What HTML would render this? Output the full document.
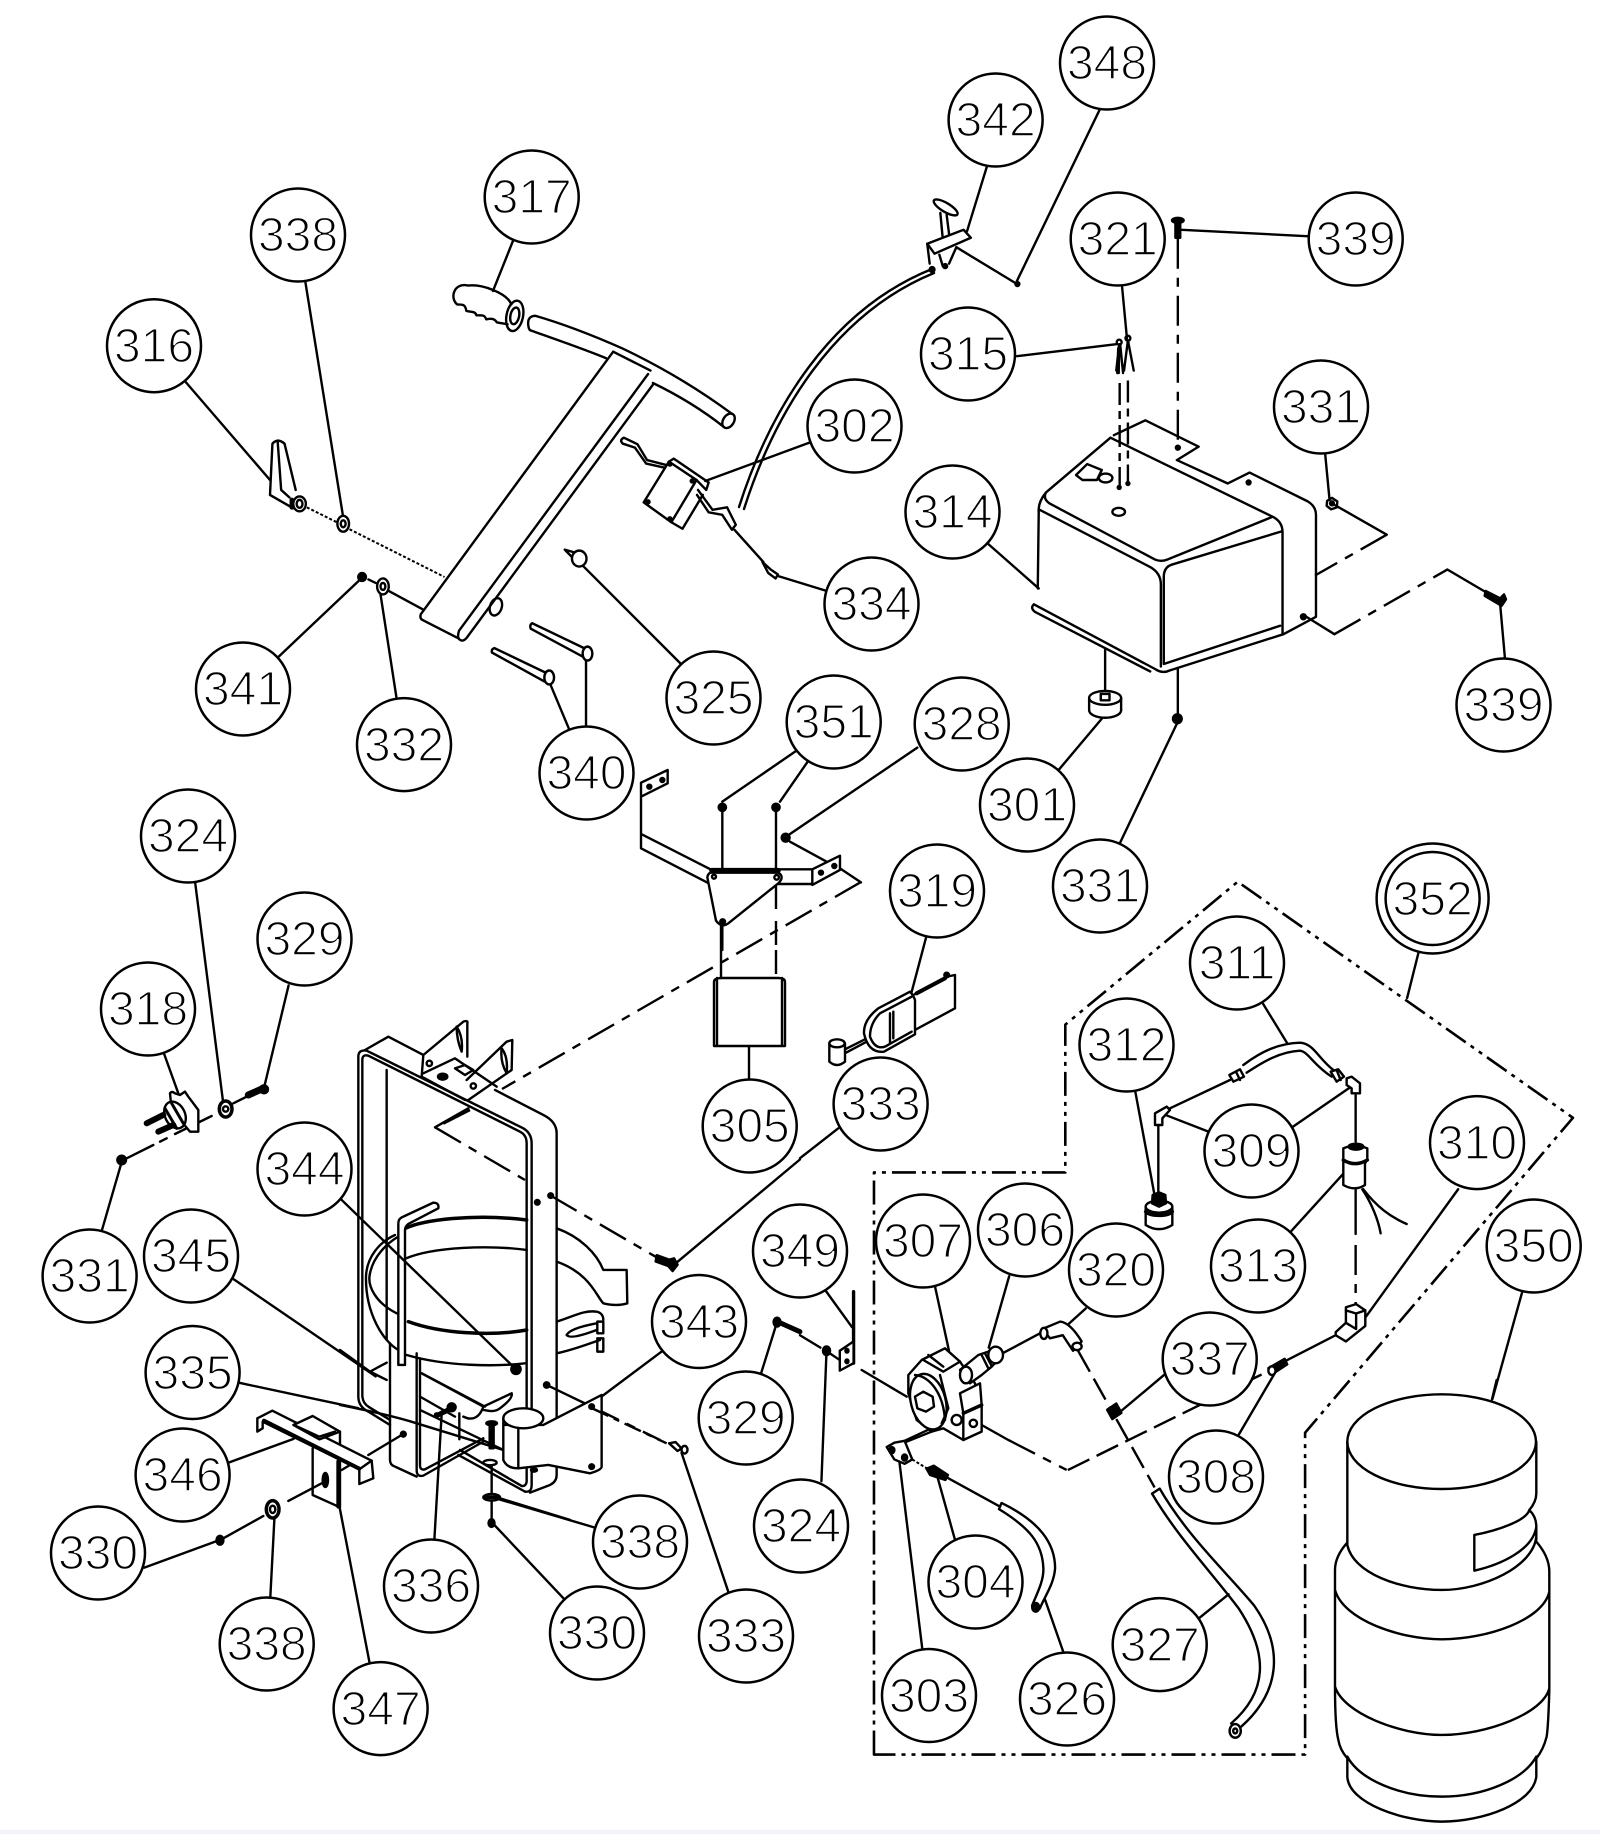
<!DOCTYPE html>
<html><head><meta charset="utf-8"><style>
html,body{margin:0;padding:0;background:#fff}
svg{display:block}
svg *{vector-effect:non-scaling-stroke}
.p{fill:none;stroke:#000;stroke-width:2.4;stroke-linejoin:round;stroke-linecap:round}
.w{fill:#fff}
.k{fill:#000;stroke:#000}
.d{stroke-dasharray:30 9 9 9;stroke-linecap:butt}
.f{stroke-dasharray:3 2;stroke-linecap:butt;stroke-width:2}
.b{stroke-dasharray:24 6 4 6 4 6;stroke-linecap:butt;stroke-width:2.6}
.balloon ellipse{fill:#fff;stroke:#000;stroke-width:2.5}
.balloon text{font-family:"Liberation Sans",sans-serif;font-size:48px;text-anchor:middle;fill:#000;stroke:#fff;stroke-width:1.5}
</style></head><body>
<svg width="1600" height="1834" viewBox="0 0 1600 1834" xmlns="http://www.w3.org/2000/svg">
<rect width="1600" height="1834" fill="#fff"/>
<rect y="1830" width="1600" height="4" fill="#f4f3f8"/>

<!-- upper left -->
<g class="p" transform="translate(80,0) scale(.4847,.4974)">
<path d="M893,485L852,585M465,567L543,1040M218,768L392,965M410,1320L578,1165M653,1403L620,1195M1240,1335L1035,1135M1010,1468L970,1375M1044,1462V1325M1505,890L1290,967M1540,1188L1440,1158M595,1165L610,1172M635,1187L707,1225M1350,1065L1410,1130"/>
<path class="f" d="M468,1020L530,1050M556,1064L752,1160"/>
<path d="M852,583C870,590 885,600 890,612M778,612C762,598 772,568 800,574C820,572 840,578 852,583M778,612C790,612 795,612 797,625C808,628 815,625 818,634C828,634 835,632 838,642C848,640 855,640 860,648C868,650 875,650 882,652"/>
<ellipse cx="897" cy="635" rx="17" ry="31" transform="rotate(12 897 635)"/>
<ellipse cx="897" cy="635" rx="9" ry="17" transform="rotate(12 897 635)"/>
<path d="M940,635C1000,652 1060,675 1118,700C1200,738 1280,785 1345,832M932,665C980,682 1035,700 1085,720M1182,770C1235,795 1285,825 1328,858M940,635Q922,635 925,655Q926,665 932,665"/>
<ellipse cx="1338" cy="846" rx="11" ry="16" transform="rotate(35 1338 846)"/>
<path d="M1100,707L1177,745M1100,707L703,1235Q700,1245 710,1248L780,1283M1172,752L782,1268Q778,1280 782,1285Q790,1292 798,1282L1183,772"/>
<ellipse cx="858" cy="1220" rx="12" ry="18" transform="rotate(20 858 1220)"/>
<path d="M392,995L397,892Q408,880 422,892L445,985M392,995L440,1022M408,890L415,985L432,1000"/>
<ellipse class="w" cx="453" cy="1013" rx="13" ry="15"/><ellipse cx="453" cy="1013" rx="6" ry="8"/>
<path style="stroke-width:4.5" d="M437,1005V1020"/>
<ellipse class="w" cx="543" cy="1053" rx="12" ry="16"/><ellipse cx="543" cy="1053" rx="5" ry="7"/>
<circle class="k" cx="582" cy="1160" r="8"/>
<ellipse class="w" cx="625" cy="1179" rx="12" ry="16"/><ellipse cx="625" cy="1179" rx="5" ry="7"/>
<path d="M855,1303L960,1352M850,1312L958,1370M855,1303Q848,1305 850,1312"/><ellipse class="w" cx="968" cy="1362" rx="10" ry="14"/>
<path d="M933,1253L1040,1303M930,1264L1037,1320M933,1253Q927,1256 930,1264"/><ellipse class="w" cx="1047" cy="1314" rx="10" ry="14"/>
<path d="M1000,1105L1020,1125L1018,1110Z"/><ellipse class="w" cx="1030" cy="1123" rx="15" ry="16"/>
<path class="w" d="M1215,928L1272,965L1220,1050L1163,1010Z"/>
<path d="M1215,928L1225,922L1297,970L1292,985M1220,1050L1243,1063L1285,995M1272,965L1292,985"/>
<path d="M1210,935L1170,925L1150,893L1122,880Q1112,885 1120,892L1145,900L1168,932L1205,940M1275,985L1305,1025L1335,1020L1353,1055L1345,1065L1325,1035L1297,1030L1273,995"/>
<path d="M1408,1130L1425,1145L1440,1155L1435,1163L1420,1152Z"/>
<circle class="k" cx="1217" cy="933" r="3"/><circle class="k" cx="1263" cy="967" r="3"/><circle class="k" cx="1172" cy="1009" r="3"/><circle class="k" cx="1217" cy="1043" r="3"/>
</g>

<!-- cable -->
<g class="p"><path d="M739,507C770,410 830,310 932,269M744,509C775,412 834,314 934,273"/></g>

<!-- upper right -->
<g class="p" transform="translate(840,0) scale(.4847,.4974)">
<path d="M303,335L262,465M535,222L365,565M240,497L360,568M582,577L592,680M365,716L570,692M968,475L705,462M1001,913L1010,1005M305,1093L410,1183M1372,1325L1362,1215M445,1555L540,1445M547,1305V1395M575,1700L695,1455M697,1345V1435"/>
<circle class="k" cx="366" cy="571" r="4"/>
<ellipse class="w" cx="218" cy="417" rx="28" ry="9" transform="rotate(30 218 417)"/>
<path d="M207,428L212,480M220,432L225,470"/>
<path class="w" d="M180,490L255,462L270,478L195,510Z"/>
<path d="M180,490L185,530M205,512L212,535M240,497L225,530"/>
<circle class="k" cx="190" cy="542" r="5"/><circle class="k" cx="217" cy="535" r="4"/>
<ellipse class="k" cx="697" cy="443" rx="12" ry="5"/><path class="k" d="M692,447H702V478H692Z"/>
<path class="d" d="M697,480V900"/><circle class="k" cx="697" cy="900" r="4"/>
<circle cx="576" cy="688" r="5"/><circle cx="594" cy="680" r="5"/>
<path d="M576,692L570,745M576,692L575,750M578,692L584,750M594,684L586,745M594,684L606,745M574,700L572,750"/>
<path class="d" style="stroke-dasharray:22 6 8 6" d="M577,770V980M594,765V972"/>
<circle class="k" cx="576" cy="980" r="3"/><circle class="k" cx="594" cy="972" r="3"/>
<path d="M558,880L425,990Q418,1002 432,1012L650,1125Q662,1130 675,1125L890,1040M558,880L895,1040Q913,1050 913,1070V1275M565,875L630,845L740,898L695,925L800,972L845,950L965,1008Q982,1018 982,1035V1240L915,1275M425,990Q408,1010 410,1030L408,1183M412,1025L640,1140Q662,1152 662,1175V1340M912,1068L685,1135Q668,1140 668,1160V1335L908,1258M400,1215L650,1345Q665,1355 680,1348L915,1275M400,1215Q392,1222 402,1230L640,1350"/>
<path d="M487,955L510,933L540,945L530,965L500,965Z"/>
<ellipse cx="548" cy="961" rx="14" ry="9"/><ellipse cx="575" cy="1029" rx="13" ry="8"/>
<circle class="k" cx="843" cy="970" r="4"/><circle class="k" cx="956" cy="1240" r="5"/>
<path class="d" d="M1128,1075L980,1157"/><path d="M1022,1016L1128,1075"/>
<path d="M1005,1007L1015,1001L1026,1008L1025,1020L1013,1024L1004,1017Z"/><circle class="k" cx="1015" cy="1012" r="4"/>
<path class="d" d="M1020,1275L1253,1145"/><path d="M962,1240L1020,1275M1253,1145L1335,1192"/>
<path class="k" d="M1332,1188L1362,1203L1370,1195L1374,1205L1365,1218L1358,1214L1330,1198Z"/>
<ellipse class="w" cx="547" cy="1428" rx="33" ry="15"/>
<path class="w" d="M514,1403V1428H580V1403Z" style="stroke:none"/>
<path d="M514,1403V1428M580,1403V1428"/>
<ellipse class="w" cx="547" cy="1403" rx="33" ry="14"/>
<path d="M538,1395H556V1408H538Z"/>
<circle class="k" cx="696" cy="1445" r="9"/>
</g>

<!-- 351 bracket -->
<g class="p" transform="translate(630,760) scale(.3333)">
<path d="M277,125L498,-27M450,125L540,-5M480,222L862,-37M480,245L590,305"/>
<circle class="k" cx="277" cy="142" r="11"/><circle class="k" cx="438" cy="142" r="11"/>
<circle class="k" cx="467" cy="233" r="12"/>
<path d="M277,142V330M438,142V330M277,495V570"/>
<path class="d" d="M438,375V570" style="stroke-dasharray:24 12"/>
<path d="M33,68L113,30V70L33,110ZM33,110V265L240,372M33,222L245,330"/>
<circle class="k" cx="58" cy="80" r="6"/><circle class="k" cx="97" cy="60" r="6"/>
<path d="M445,328H547M445,372H547M547,328V375L630,330V287L547,328M630,325L693,367"/>
<circle class="k" cx="573" cy="338" r="6"/><circle class="k" cx="613" cy="318" r="6"/>
<path class="w" d="M232,352Q235,335 250,338H445Q465,350 445,370L295,490Q275,505 258,482Z"/>
<path d="M245,331H445" style="stroke-width:5"/>
<circle cx="252" cy="350" r="6"/><circle cx="440" cy="352" r="7"/><circle class="k" cx="278" cy="485" r="7"/>
</g>
<g class="p">
<path class="d" d="M861,882L502,1089M470,1110L435,1128"/>
<path d="M721,923V978"/>
<path class="d" style="stroke-dasharray:24 12" d="M776,950V975"/>
<path d="M714,982Q714,978 722,978H778Q785,978 785,982V1046H714ZM717,978V1046M782,978V1046"/>
<path d="M749,1047V1080"/>
</g>

<!-- frame -->
<g class="p" transform="translate(340,1020) scale(.3333)">
<path d="M75,90L145,50L250,105M465,210L610,285Q650,305 650,340V1365Q650,1385 630,1395L570,1418"/>
<path d="M140,150V960"/>
<path d="M150,970V1320Q150,1335 165,1340L230,1370"/>
<path d="M230,1000V1350Q230,1372 250,1367L430,1265M240,1015V1335Q240,1352 255,1348L430,1255"/>
<path d="M245,1060L435,1160M240,1130L345,1190M240,1170L490,1290M355,1305L555,1415M360,1290L545,1398"/>
<path d="M150,1215L85,1175Q55,1160 55,1130V110Q55,88 80,92L550,325Q575,340 575,370V1395Q575,1418 555,1415"/>
<path d="M150,1200L88,1162Q67,1150 67,1125V120Q67,102 85,107L540,335Q560,345 560,370V1385Q558,1400 545,1398"/>
<path d="M560,600C400,580 250,600 196,625" style="stroke-width:3.5"/>
<path d="M196,716C280,680 450,675 560,690"/>
<path d="M205,905C300,940 450,950 560,930" style="stroke-width:3.5"/>
<path d="M175,650C140,670 100,710 90,760C80,800 110,850 170,880"/>
<path d="M165,645C120,665 80,710 78,770C76,880 130,965 175,990M200,1005C320,1040 470,1040 555,1030"/>
<path d="M650,625C720,650 770,700 790,750L860,750L862,850Q830,860 790,850C770,830 750,760 650,725"/>
<path d="M650,905C700,890 730,870 770,875Q790,880 790,900M650,1000C700,990 750,970 780,960M680,945Q690,925 770,910M680,945Q690,960 770,930"/>
<path d="M772,905H790V940H772ZM772,955H790V995H772Z"/>
<path class="w" d="M175,1035V610Q175,595 190,590L280,548Q298,548 295,565L205,612Q195,620 195,630V1035Z"/>
<path d="M250,105L370,5Q385,0 382,10V110M250,105L245,170L375,240M380,180L500,65L517,60L515,150L385,240M250,160L345,115L470,200"/>
<path d="M350,20Q370,50 365,95Q350,60 350,20M485,85Q505,110 500,160Q480,125 485,85"/>
<circle cx="268" cy="130" r="8"/><circle cx="400" cy="198" r="8"/><ellipse class="k" cx="308" cy="170" rx="14" ry="9"/>
<path d="M345,145L375,135L400,150L375,165Z"/>
<circle class="k" cx="592" cy="547" r="7"/><circle class="k" cx="632" cy="527" r="7"/><circle class="k" cx="620" cy="1095" r="8"/><circle class="k" cx="190" cy="1243" r="7"/>
<path class="d" d="M285,322L555,480M632,527L955,715"/>
<path d="M285,322L385,265M620,1095L755,1160"/>
<path class="d" d="M755,1160L960,1260"/>
<path d="M0,535L525,1045"/><circle class="k" cx="528" cy="1048" r="14"/>
<path d="M0,990L90,1055L140,1080M90,1055L140,1028M0,1155Q150,1185 230,1210L490,1290"/>
<path d="M245,1060L430,1160C420,1190 400,1205 370,1190M430,1160L515,1120Q520,1135 480,1165C460,1180 440,1170 430,1170"/>
<path d="M358,1180V1258"/>
<circle class="k" cx="335" cy="1162" r="12"/><path class="k" d="M335,1165L290,1187" style="stroke-width:5"/>
<circle class="k" cx="290" cy="1185" r="5"/>
<path class="w" d="M490,1195V1320Q500,1345 535,1345L625,1335L750,1360Q785,1350 785,1340V1125L610,1215H490Z"/>
<ellipse class="w" cx="550" cy="1195" rx="60" ry="30"/>
<path d="M535,1225V1345"/>
<circle class="k" cx="755" cy="1160" r="7"/><circle class="k" cx="755" cy="1340" r="7"/>
<ellipse class="k" cx="582" cy="1350" rx="9" ry="5"/>
<ellipse class="k" cx="455" cy="1210" rx="16" ry="6"/><path class="k" d="M449,1215H461V1285H449Z"/>
<ellipse cx="450" cy="1328" rx="20" ry="8"/>
<path d="M455,1340V1425"/>
<ellipse class="w" cx="455" cy="1432" rx="25" ry="10"/><path d="M435,1432H475" style="stroke-width:4"/>
<path d="M480,1435L690,1500M455,1442V1500"/>
</g>

<!-- lower left leaders -->
<g class="p" transform="translate(20,780) scale(.4974,.6378)">
<path d="M352,160L408,503M540,322L492,478M290,430L320,495M165,705L204,600M430,783L715,935M440,945L680,985M420,1070L550,1033M250,1235L400,1192M503,1285L512,1150M703,1385L640,1130M1155,1172L960,1127M1095,1285L950,1165M1425,1275L1330,1055M1292,895L1172,965M1568,595L1315,760M848,990L833,1192M1490,930L1522,850"/>
<circle class="k" cx="402" cy="1192" r="7"/>
<circle class="k" cx="948" cy="1165" r="6"/>
<path class="d" style="stroke-dasharray:18 6 6 6" d="M1150,985L1300,1040"/>
<path d="M1305,1040L1322,1052L1330,1048L1318,1038Z"/><circle class="w" cx="1336" cy="1050" r="6"/>
<path class="k" d="M1280,745L1305,752L1315,750L1322,760L1312,770L1303,762L1278,755Z"/>
<circle class="k" cx="1522" cy="850" r="7"/>
<path d="M1525,850L1568,865" style="stroke-width:5"/>
</g>

<!-- 318 -->
<g class="p" transform="translate(100,1060) scale(.3333)">
<path d="M160,255L80,295M180,245L200,235M225,222L335,168M400,130L450,105"/>
<path class="w" d="M210,100Q215,92 225,100L240,105L255,95L265,110L295,150V215L270,215L215,150Z"/>
<ellipse class="w" cx="225" cy="165" rx="30" ry="42" transform="rotate(-25 225 165)"/>
<path d="M195,145L230,205M215,130L250,190" style="stroke-width:3"/>
<path d="M140,190L190,165M175,215L220,195" style="stroke-width:6"/>
<circle class="k" cx="65" cy="300" r="13"/>
<ellipse class="w" cx="377" cy="147" rx="19" ry="24" style="stroke-width:3.5"/><circle cx="377" cy="147" r="8"/>
<path d="M445,105L490,85" style="stroke-width:7"/><circle class="k" cx="492" cy="88" r="12"/>
</g>

<!-- 346 / 347 -->
<g class="p" transform="translate(240,1390) scale(.3333)">
<path d="M385,195L490,132M145,333L245,280M-50,445L70,378"/>
<circle class="k" cx="490" cy="132" r="7"/>
<path class="w" d="M300,125V215H218V175L300,125Z" style="stroke:none"/>
<path d="M218,175V315L300,352V215M300,125V210M305,240L330,225"/>
<path d="M295,215V350" style="stroke-width:4"/>
<ellipse class="k" cx="256" cy="270" rx="8" ry="21"/>
<path class="w" d="M52,125V85L97,62L395,212L400,265L358,282V238L68,95V115Z"/>
<path d="M72,92L358,236" style="stroke-width:4"/>
<path d="M358,238L395,212"/>
<path class="w" d="M160,105L218,78L300,125L238,148Z"/>
<path d="M168,108L238,140L285,125"/>
<ellipse class="w" cx="98" cy="358" rx="19" ry="26" style="stroke-width:3.5"/><ellipse cx="98" cy="358" rx="8" ry="11"/>
</g>

<!-- lower right -->
<g class="p" transform="translate(800,860) scale(.5102,.6212)">
<path class="b" d="M145,1440V503H520V265L858,35L1515,415L990,922V1440Z"/>
<path d="M1212,150L1190,222M247,125L218,215M75,432L0,480M908,232L955,295M657,372L695,540M800,437L715,410M965,430L1080,365M1290,530L1105,740M1415,697L1357,868M960,600L1065,505M265,688L292,790M410,670L370,785M560,722L525,748M715,828L625,890M860,925L935,820M304,1095L270,995M240,1272L195,970M517,1277L480,1190M780,1222L840,1182M50,693L102,752M42,1000L52,790M0,765L40,785M60,795L78,805"/>
<path class="d" style="stroke-dasharray:24 8" d="M525,982L925,820M545,790L610,885M620,900L695,1010"/>
<path d="M955,805L1050,765"/>
<path class="w" d="M1050,760L1070,745V720L1090,715L1108,725V750L1070,775L1050,765Z"/>
<path d="M1070,725L1090,730L1108,725M1090,730V755M1070,745L1090,755"/>
<path class="k" d="M918,818L950,803L955,812L925,828Z"/><circle class="w" cx="925" cy="822" r="7"/>
<path d="M395,795L475,760"/>
<path class="w" d="M475,755L510,743Q530,745 552,775L535,790L515,765L490,770Z"/><ellipse class="w" cx="478" cy="762" rx="7" ry="9"/><ellipse class="w" cx="543" cy="783" rx="9" ry="6"/>
<path class="k" d="M602,885L620,875L630,890L612,900Z"/>
<path d="M690,1020L705,1012C760,1090 840,1150 890,1200C950,1270 940,1340 865,1395M690,1020C740,1090 810,1150 860,1205C920,1280 915,1340 845,1390"/>
<circle class="w" cx="853" cy="1402" r="11"/><circle cx="853" cy="1402" r="4"/>
<path d="M390,1045L395,1035C470,1065 500,1100 500,1140C498,1165 480,1185 470,1205M390,1045C450,1075 475,1100 477,1140C478,1160 465,1180 455,1200"/>
<ellipse class="k" cx="462" cy="1203" rx="7" ry="7"/>
<path d="M290,995L390,1040"/>
<path class="k" d="M248,980L262,975L290,990L285,998L255,990Z"/>
<path class="f" d="M220,965L250,980"/>
<path d="M170,945L185,938L205,935L220,965L205,972L185,965Z"/><circle class="k" cx="180" cy="950" r="5"/><circle class="k" cx="205" cy="962" r="5"/>
<path d="M205,935L270,910"/>
<path d="M105,695V810" style="stroke-width:3.4"/>
<path class="w" d="M78,790L105,775V810L78,822Z"/><circle class="k" cx="92" cy="790" r="3"/><circle class="k" cx="92" cy="807" r="3"/>
<circle class="k" cx="52" cy="790" r="7"/>
</g>

<!-- 319 -->
<g class="p" transform="translate(810,940) scale(.3333)">
<path d="M310,165L410,110L435,105V205L315,270"/>
<path d="M320,160L405,115" style="stroke-width:4"/><circle class="k" cx="410" cy="105" r="7"/>
<path class="w" d="M300,155L205,205Q160,240 162,280Q175,340 222,335L315,283V180Q310,165 300,155Z"/>
<path d="M305,170L210,220Q180,250 180,290Q195,330 225,320L305,275M240,220V310M250,215V295"/>
<path d="M105,328L165,298M108,338L170,305"/>
<path class="w" d="M58,310V365Q80,385 105,365V310Z"/><ellipse class="w" cx="81" cy="310" rx="23" ry="12"/>
</g>

<!-- 309-313 -->
<g class="p" transform="translate(1130,1030) scale(.3333)">
<path d="M340,105C400,60 450,40 510,38C550,40 565,85 610,120M350,128C400,95 450,65 510,62C535,65 550,105 605,140"/>
<path d="M120,235L300,150M85,285V490M677,195V335M677,480V612"/>
<path class="d" d="M677,645V822"/>
<path class="w" d="M298,135L330,118L342,140L310,155Z"/><path d="M318,125L330,150"/>
<path class="w" d="M602,125L625,118L642,140L620,155Z"/><path d="M620,120L632,150"/>
<path class="w" d="M650,145L665,140L690,160V190H665V175L650,165Z"/>
<path class="w" d="M75,250L110,230L120,240L97,265V285H75Z"/>
<path class="w" d="M47,530V585Q87,610 127,585V530Z"/>
<ellipse class="w" cx="87" cy="530" rx="40" ry="18"/>
<path d="M47,545C60,560 115,560 127,545" style="stroke-width:3.5"/>
<path class="k" d="M68,495L87,487L106,495L108,520L87,530L66,520Z"/>
<path class="w" d="M640,355Q675,340 712,355V390L705,400V465Q675,485 640,465V395Z"/>
<ellipse class="k" cx="678" cy="350" rx="22" ry="9"/>
<path d="M640,390Q675,412 712,390" style="stroke-width:3.5"/>
<path d="M700,478C740,530 780,560 830,582M697,478C725,520 745,570 752,610"/>
</g>

<!-- pump -->
<g class="p" transform="translate(860,1280) scale(.3333)">
<path d="M5,270L140,350M365,435L445,480"/>
<path class="d" d="M445,480L620,570"/>
<path class="w" d="M145,285L185,240L255,205L300,245L345,310L360,375V455L310,480L250,445L215,455L170,420L145,340Z"/>
<ellipse class="w" cx="205" cy="365" rx="52" ry="85" transform="rotate(-15 205 365)"/>
<path d="M165,285C210,290 250,340 255,420M190,240L250,275L300,245M205,225L250,260M240,285L265,385L245,430"/>
<path class="w" d="M165,350L190,335L218,350L222,380L198,395L172,385Z"/>
<path class="w" d="M300,340L360,310L365,375L310,400Z"/>
<path class="w" d="M310,400L365,375V455L310,480Z"/><path d="M310,400L365,375" style="stroke-width:3.5"/>
<circle class="w" cx="340" cy="430" r="11"/><circle cx="290" cy="420" r="15"/>
<path class="w" d="M300,270L355,225L385,215L405,200L428,225L395,260L365,285L330,310Z"/>
<ellipse class="w" cx="407" cy="225" rx="22" ry="25"/>
<ellipse class="w" cx="318" cy="285" rx="18" ry="25"/>
<path d="M365,225L385,265M375,220L395,258"/>
<path d="M140,485L240,445"/>
</g>

<!-- tank -->
<g class="p" transform="translate(1320,1380) scale(.3333)">
<path d="M516,58L530,0"/>
<ellipse cx="365" cy="185" rx="283" ry="142"/>
<path d="M82,185V495M649,185V340Q649,365 628,390M82,495C100,580 240,630 365,630C490,630 640,560 649,470M628,390Q649,410 649,440V480M463,465C540,450 620,420 628,390M463,465V572M463,572C540,555 640,510 649,440M80,490Q45,530 45,570V920Q45,1040 55,1080Q60,1110 82,1135M649,485Q688,530 688,575V930Q685,1040 680,1070Q670,1110 649,1135M45,630C70,720 240,778 365,778C500,778 670,720 688,635M45,920C70,1000 240,1065 365,1065C500,1065 670,1000 688,925M82,1130C120,1200 240,1250 365,1250C490,1250 610,1200 649,1130M82,1130V1190C85,1270 250,1325 365,1325C490,1325 640,1270 649,1190V1130"/>
</g>

<!-- balloons -->
<g class="balloon">
<ellipse cx="531.7" cy="197" rx="47" ry="46.5"/><text x="531.7" y="213">317</text>
<ellipse cx="298" cy="235" rx="47" ry="46.5"/><text x="298" y="251">338</text>
<ellipse cx="154" cy="345.7" rx="47" ry="46.5"/><text x="154" y="362">316</text>
<ellipse cx="243" cy="689" rx="47" ry="46.5"/><text x="243" y="705">341</text>
<ellipse cx="404" cy="744.6" rx="47" ry="46.5"/><text x="404" y="761">332</text>
<ellipse cx="586.5" cy="773" rx="47" ry="46.5"/><text x="586.5" y="789">340</text>
<ellipse cx="713.5" cy="698" rx="47" ry="46.5"/><text x="713.5" y="714">325</text>
<ellipse cx="1107" cy="63" rx="47" ry="46.5"/><text x="1107" y="79">348</text>
<ellipse cx="995.6" cy="120" rx="47" ry="46.5"/><text x="995.6" y="136">342</text>
<ellipse cx="1117.7" cy="239" rx="47" ry="46.5"/><text x="1117.7" y="255">321</text>
<ellipse cx="1355.7" cy="239" rx="47" ry="46.5"/><text x="1355.7" y="255">339</text>
<ellipse cx="968" cy="354" rx="47" ry="46.5"/><text x="968" y="370">315</text>
<ellipse cx="1321" cy="407" rx="47" ry="46.5"/><text x="1321" y="423">331</text>
<ellipse cx="854.5" cy="426" rx="47" ry="46.5"/><text x="854.5" y="442">302</text>
<ellipse cx="952.5" cy="512" rx="47" ry="46.5"/><text x="952.5" y="528">314</text>
<ellipse cx="871.5" cy="604" rx="47" ry="46.5"/><text x="871.5" y="620">334</text>
<ellipse cx="961.7" cy="724" rx="47" ry="46.5"/><text x="961.7" y="740">328</text>
<ellipse cx="1503.5" cy="705" rx="47" ry="46.5"/><text x="1503.5" y="721">339</text>
<ellipse cx="833.7" cy="722" rx="47" ry="46.5"/><text x="833.7" y="738">351</text>
<ellipse cx="1027" cy="805" rx="47" ry="46.5"/><text x="1027" y="821">301</text>
<ellipse cx="1100" cy="886" rx="47" ry="46.5"/><text x="1100" y="902">331</text>
<ellipse cx="188" cy="836" rx="47" ry="46.5"/><text x="188" y="852">324</text>
<ellipse cx="304.5" cy="939" rx="47" ry="46.5"/><text x="304.5" y="955">329</text>
<ellipse cx="148" cy="1009" rx="47" ry="46.5"/><text x="148" y="1025">318</text>
<ellipse cx="304.5" cy="1169" rx="47" ry="46.5"/><text x="304.5" y="1185">344</text>
<ellipse cx="89.6" cy="1276" rx="47" ry="46.5"/><text x="89.6" y="1292">331</text>
<ellipse cx="191" cy="1256" rx="47" ry="46.5"/><text x="191" y="1272">345</text>
<ellipse cx="192.6" cy="1372.5" rx="47" ry="46.5"/><text x="192.6" y="1389">335</text>
<ellipse cx="182.6" cy="1475" rx="47" ry="46.5"/><text x="182.6" y="1491">346</text>
<ellipse cx="98" cy="1553" rx="47" ry="46.5"/><text x="98" y="1569">330</text>
<ellipse cx="266.7" cy="1644" rx="47" ry="46.5"/><text x="266.7" y="1660">338</text>
<ellipse cx="380.6" cy="1708.6" rx="47" ry="46.5"/><text x="380.6" y="1725">347</text>
<ellipse cx="431" cy="1586" rx="47" ry="46.5"/><text x="431" y="1602">336</text>
<ellipse cx="640" cy="1542" rx="47" ry="46.5"/><text x="640" y="1558">338</text>
<ellipse cx="597" cy="1633" rx="47" ry="46.5"/><text x="597" y="1649">330</text>
<ellipse cx="746" cy="1636" rx="47" ry="46.5"/><text x="746" y="1652">333</text>
<ellipse cx="699" cy="1321.5" rx="47" ry="46.5"/><text x="699" y="1338">343</text>
<ellipse cx="745.7" cy="1418" rx="47" ry="46.5"/><text x="745.7" y="1434">329</text>
<ellipse cx="749.7" cy="1126" rx="47" ry="46.5"/><text x="749.7" y="1142">305</text>
<ellipse cx="801" cy="1526" rx="47" ry="46.5"/><text x="801" y="1542">324</text>
<ellipse cx="800" cy="1251" rx="47" ry="46.5"/><text x="800" y="1267">349</text>
<ellipse cx="937" cy="891" rx="47" ry="46.5"/><text x="937" y="907">319</text>
<ellipse cx="880.6" cy="1104" rx="47" ry="46.5"/><text x="880.6" y="1120">333</text>
<ellipse cx="1432.6" cy="898.5" rx="56" ry="55"/><ellipse cx="1432.6" cy="898.5" rx="47" ry="46.5"/><text x="1432.6" y="915">352</text>
<ellipse cx="1237" cy="963" rx="47" ry="46.5"/><text x="1237" y="979">311</text>
<ellipse cx="1126.5" cy="1045" rx="47" ry="46.5"/><text x="1126.5" y="1061">312</text>
<ellipse cx="1251.5" cy="1151" rx="47" ry="46.5"/><text x="1251.5" y="1167">309</text>
<ellipse cx="1477" cy="1142.6" rx="47" ry="46.5"/><text x="1477" y="1159">310</text>
<ellipse cx="1533.7" cy="1246" rx="47" ry="46.5"/><text x="1533.7" y="1262">350</text>
<ellipse cx="1258" cy="1266" rx="47" ry="46.5"/><text x="1258" y="1282">313</text>
<ellipse cx="923" cy="1241" rx="47" ry="46.5"/><text x="923" y="1257">307</text>
<ellipse cx="1025" cy="1230" rx="47" ry="46.5"/><text x="1025" y="1246">306</text>
<ellipse cx="1116" cy="1270" rx="47" ry="46.5"/><text x="1116" y="1286">320</text>
<ellipse cx="1209.7" cy="1359" rx="47" ry="46.5"/><text x="1209.7" y="1375">337</text>
<ellipse cx="1216" cy="1477" rx="47" ry="46.5"/><text x="1216" y="1493">308</text>
<ellipse cx="975.5" cy="1582" rx="47" ry="46.5"/><text x="975.5" y="1598">304</text>
<ellipse cx="929" cy="1695.5" rx="47" ry="46.5"/><text x="929" y="1712">303</text>
<ellipse cx="1067" cy="1699" rx="47" ry="46.5"/><text x="1067" y="1715">326</text>
<ellipse cx="1159.7" cy="1644.6" rx="47" ry="46.5"/><text x="1159.7" y="1661">327</text>
</g>
</svg>
</body></html>
